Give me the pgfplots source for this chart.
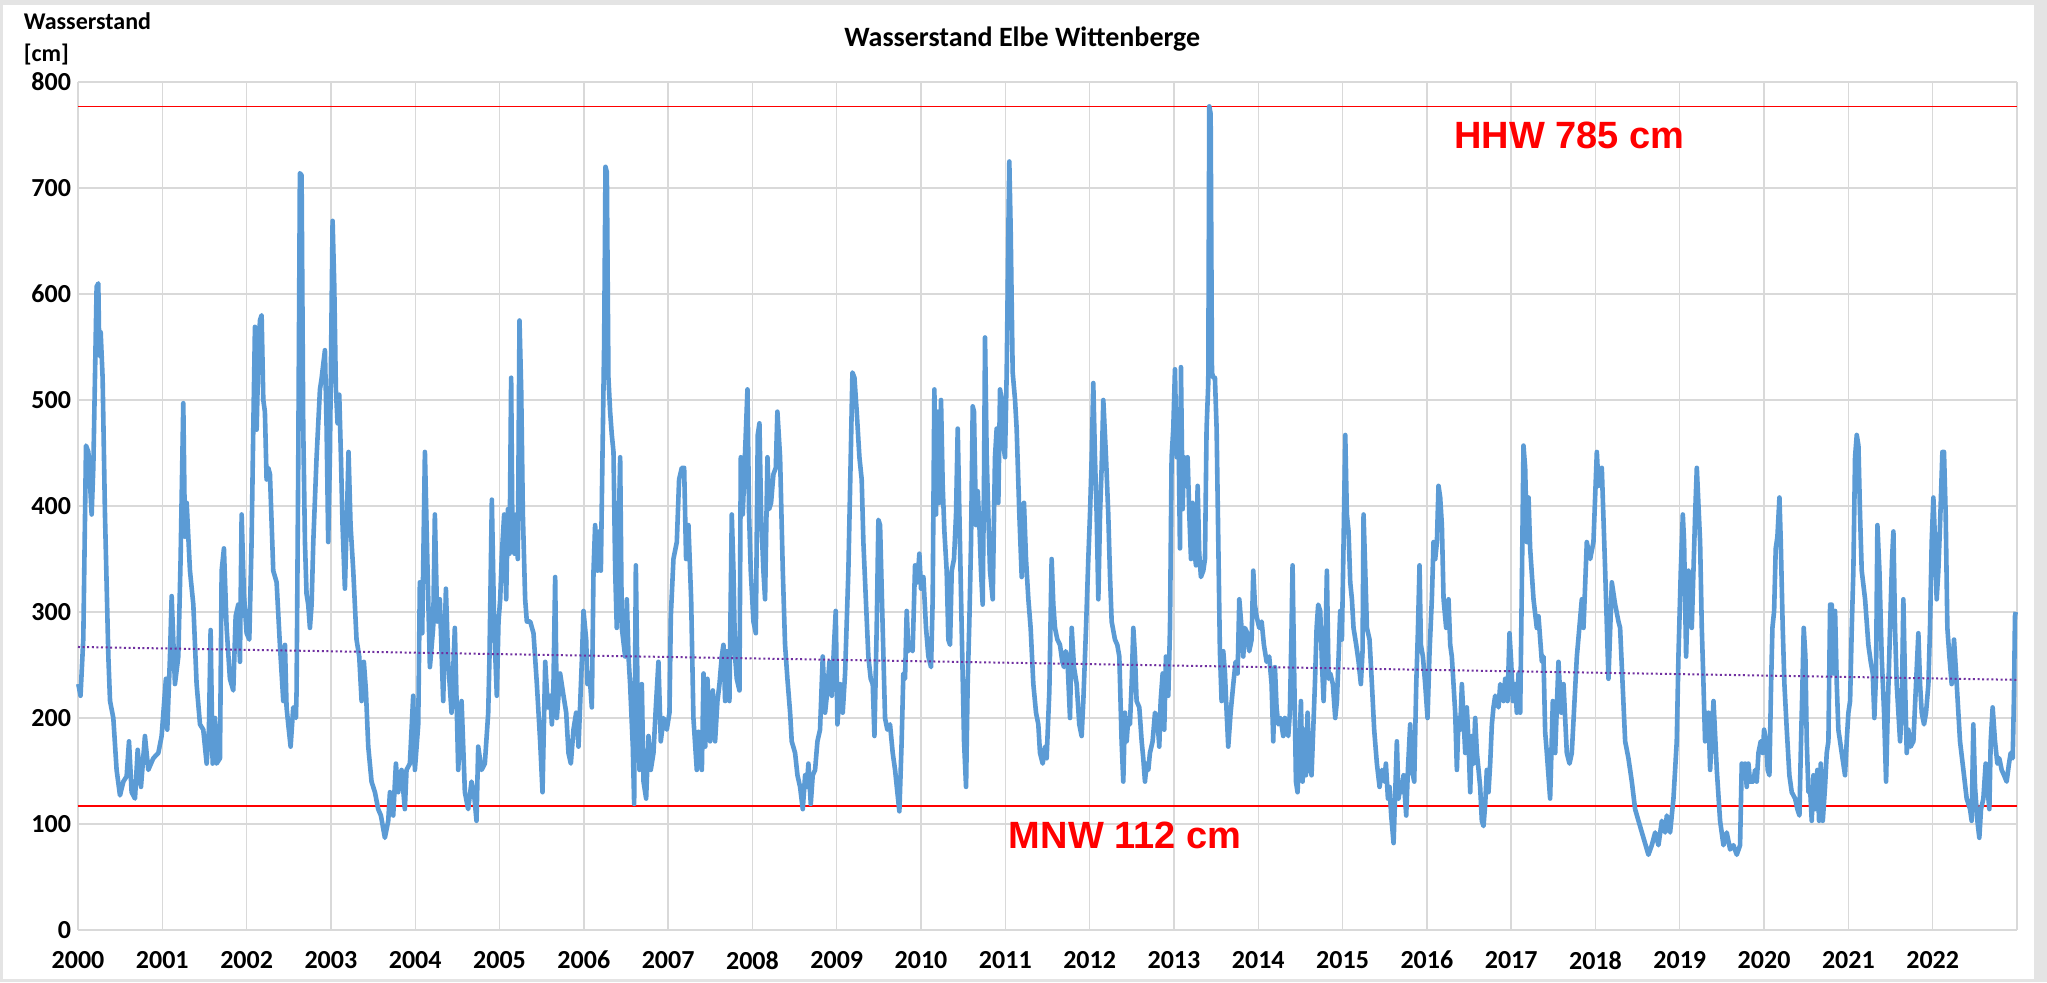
\documentclass[border=0pt]{standalone}
\usepackage{pgfplots}
\pgfplotsset{compat=1.18}
\usepackage{fontspec}
\setmainfont{Carlito}
\newfontfamily\arialfont{Liberation Sans}

\definecolor{pegel}{HTML}{5B9BD5}
\definecolor{trend}{HTML}{7030A0}
\definecolor{gitter}{HTML}{D9D9D9}
\definecolor{rand}{HTML}{E4E4E4}

\begin{document}
\begin{tikzpicture}
% chart area frame
\fill[rand] (-39pt,-26pt) rectangle (984.5pt,465pt);
\fill[white] (-37.5pt,-24.5pt) rectangle (978pt,462.5pt);

\begin{axis}[
    width=969.5pt, height=424pt, scale only axis,
    xmin=2000, xmax=2023, ymin=0, ymax=800,
    axis line style={draw=none},
    major tick length=0pt,
    grid=major,
    major grid style={draw=gitter, line width=0.7pt},
    xtick={2000,2001,...,2023},
    xticklabels={2000,2001,2002,2003,2004,2005,2006,2007,2008,2009,2010,2011,2012,2013,2014,2015,2016,2017,2018,2019,2020,2021,2022,},
    ytick={0,100,...,800},
    yticklabels={0,100,200,300,400,500,600,700,800},
    tick label style={font=\bfseries\fontsize{13}{15}\selectfont},
    xticklabel style={yshift=-7pt},
    clip=false,
]

% MNW / HHW
\addplot[red, line width=0.8pt] coordinates {(2000,777) (2023,777)};
\addplot[red, line width=0.8pt] coordinates {(2000,117) (2023,117)};

% Wasserstand
\addplot[pegel, line width=2.3pt, line join=round] coordinates {
(2000.004,232) (2000.03,221) (2000.063,275) (2000.095,457) (2000.123,451) (2000.162,392) (2000.182,437) (2000.221,607) (2000.241,610) (2000.253,542)
(2000.269,564) (2000.292,521) (2000.32,392) (2000.36,258) (2000.38,216) (2000.419,200) (2000.458,151) (2000.498,127) (2000.538,140) (2000.577,145)
(2000.605,178) (2000.636,130) (2000.676,124) (2000.708,170) (2000.747,135) (2000.794,183) (2000.834,151) (2000.893,162) (2000.953,167) (2000.992,183)
(2001.043,237) (2001.059,189) (2001.091,258) (2001.111,315) (2001.15,232) (2001.19,258) (2001.217,350) (2001.249,497) (2001.269,371) (2001.289,403)
(2001.328,339) (2001.368,307) (2001.407,232) (2001.447,194) (2001.486,189) (2001.526,157) (2001.553,189) (2001.573,283) (2001.597,157) (2001.625,200)
(2001.644,157) (2001.684,162) (2001.704,339) (2001.731,360) (2001.763,285) (2001.802,237) (2001.842,226) (2001.87,296) (2001.901,307) (2001.921,253)
(2001.941,392) (2001.968,317) (2002.0,280) (2002.032,274) (2002.059,366) (2002.079,472) (2002.099,569) (2002.119,472) (2002.138,537) (2002.158,575)
(2002.178,580) (2002.198,500) (2002.217,489) (2002.237,425) (2002.257,436)
(2002.277,430) (2002.316,339) (2002.356,328) (2002.395,269) (2002.435,216) (2002.455,269) (2002.474,210) (2002.494,194) (2002.522,173) (2002.553,210)
(2002.585,200) (2002.593,226) (2002.613,446) (2002.632,714) (2002.652,712) (2002.672,473) (2002.692,366) (2002.711,317) (2002.731,307) (2002.751,285)
(2002.771,307) (2002.791,366) (2002.83,446) (2002.87,510) (2002.889,520) (2002.929,547) (2002.949,473) (2002.968,366) (2002.988,446) (2003.02,669)
(2003.04,607) (2003.059,510) (2003.079,478) (2003.099,505) (2003.119,446) (2003.138,382) (2003.166,322) (2003.194,403) (2003.209,451) (2003.233,382)
(2003.265,339) (2003.304,274) (2003.336,258) (2003.364,216) (2003.391,253) (2003.415,226) (2003.443,173) (2003.482,140) (2003.522,130) (2003.561,114)
(2003.593,108) (2003.64,87) (2003.68,103) (2003.70,130) (2003.739,108) (2003.771,157) (2003.798,130) (2003.838,151) (2003.877,114) (2003.897,151)
(2003.937,157) (2003.976,221) (2003.996,151) (2004.036,194) (2004.055,328) (2004.083,280) (2004.115,451) (2004.142,355) (2004.174,248) (2004.213,285)
(2004.233,392) (2004.261,291) (2004.292,312) (2004.332,216) (2004.364,322) (2004.391,253) (2004.431,205) (2004.47,285) (2004.51,151) (2004.55,216)
(2004.589,130) (2004.628,114) (2004.668,140) (2004.696,130) (2004.727,103) (2004.747,173) (2004.787,151) (2004.826,157) (2004.866,205)
(2004.881,258) (2004.909,406) (2004.937,285) (2004.968,221) (2004.988,291) (2005.008,312) (2005.028,355) (2005.055,392) (2005.079,312) (2005.099,397)
(2005.119,355) (2005.138,521) (2005.154,366) (2005.178,355) (2005.198,392) (2005.217,350) (2005.237,575) (2005.257,510) (2005.277,392) (2005.304,312)
(2005.324,291) (2005.364,291) (2005.403,280) (2005.443,232) (2005.482,178) (2005.51,130) (2005.542,253) (2005.573,210) (2005.601,221) (2005.621,194)
(2005.64,232) (2005.66,333) (2005.68,200) (2005.719,242) (2005.759,221) (2005.791,205) (2005.818,167) (2005.846,157) (2005.877,189) (2005.909,205)
(2005.937,173) (2005.976,253) (2005.996,301) (2006.028,274) (2006.043,232) (2006.067,242) (2006.095,210) (2006.115,339) (2006.134,382) (2006.162,339)
(2006.182,376) (2006.202,339) (2006.221,446) (2006.241,553) (2006.257,720) (2006.273,715) (2006.292,521) (2006.312,489) (2006.332,467) (2006.352,451)
(2006.372,339) (2006.391,285) (2006.431,446) (2006.451,285) (2006.49,258) (2006.51,312) (2006.53,258) (2006.549,232) (2006.581,173) (2006.597,119)
(2006.617,344) (2006.636,232) (2006.66,151) (2006.688,232) (2006.708,140) (2006.739,124) (2006.767,183) (2006.794,151) (2006.826,167) (2006.854,210)
(2006.885,253) (2006.913,178) (2006.945,200) (2006.984,189) (2007.016,205) (2007.032,296) (2007.063,350) (2007.103,366) (2007.13,425) (2007.162,436)
(2007.19,436) (2007.213,350) (2007.241,382) (2007.273,312)
(2007.30,200) (2007.34,151) (2007.36,187) (2007.40,151) (2007.42,242) (2007.44,173) (2007.466,237) (2007.498,178) (2007.53,226) (2007.557,178)
(2007.585,216) (2007.609,232) (2007.636,258) (2007.656,269) (2007.676,216) (2007.696,263) (2007.727,216) (2007.755,392) (2007.775,339) (2007.794,258)
(2007.814,237) (2007.846,226) (2007.862,446) (2007.885,392) (2007.913,451) (2007.941,510) (2007.96,392) (2007.98,339) (2008.012,291) (2008.04,280)
(2008.063,467) (2008.083,478) (2008.103,392) (2008.13,339) (2008.15,312) (2008.178,446) (2008.198,397) (2008.221,403) (2008.249,430) (2008.277,436)
(2008.296,489) (2008.328,446) (2008.36,339) (2008.387,269) (2008.415,237) (2008.447,205) (2008.466,178) (2008.506,167) (2008.534,146) (2008.565,135)
(2008.597,114) (2008.625,146) (2008.644,135) (2008.664,157) (2008.692,119) (2008.715,146) (2008.743,151) (2008.771,178) (2008.802,189) (2008.834,258)
(2008.862,205) (2008.889,226) (2008.913,253) (2008.941,221) (2008.968,269) (2008.988,301) (2009.008,194) (2009.04,232) (2009.071,205) (2009.099,242)
(2009.138,339) (2009.166,446) (2009.186,526) (2009.21,521) (2009.237,489) (2009.269,446) (2009.296,425) (2009.316,366) (2009.348,307) (2009.375,258)
(2009.403,237) (2009.427,232) (2009.447,183) (2009.474,285) (2009.494,387) (2009.514,382) (2009.545,285) (2009.573,200) (2009.6,189) (2009.632,194)
(2009.664,167) (2009.692,151) (2009.719,130) (2009.743,112)
(2009.77,178) (2009.79,242) (2009.81,237) (2009.83,301) (2009.85,263) (2009.87,269) (2009.90,263) (2009.929,344) (2009.957,328) (2009.98,355)
(2010.0,322) (2010.028,333) (2010.059,285) (2010.087,258) (2010.119,248) (2010.138,312) (2010.158,510) (2010.178,392) (2010.198,489) (2010.217,403)
(2010.237,500) (2010.257,419) (2010.277,376) (2010.304,339) (2010.324,274) (2010.344,269) (2010.364,339) (2010.391,350) (2010.415,392) (2010.435,473)
(2010.455,392) (2010.482,285) (2010.51,178) (2010.534,135) (2010.553,232) (2010.573,291) (2010.593,366) (2010.613,494) (2010.628,489) (2010.652,382)
(2010.672,414) (2010.692,382) (2010.711,339) (2010.731,307) (2010.747,425) (2010.759,559) (2010.779,446) (2010.798,392) (2010.818,339) (2010.85,312)
(2010.877,446) (2010.897,473) (2010.917,403) (2010.937,510) (2010.957,500) (2010.976,457) (2010.996,446) (2011.016,526) (2011.036,661) (2011.047,725)
(2011.063,661) (2011.087,526) (2011.115,500) (2011.134,473) (2011.166,392) (2011.194,333) (2011.221,403) (2011.245,350) (2011.273,312) (2011.3,285)
(2011.332,232) (2011.364,205) (2011.391,194) (2011.411,167) (2011.443,157) (2011.47,173) (2011.49,162) (2011.522,226) (2011.549,350) (2011.569,307)
(2011.589,285) (2011.617,274) (2011.648,269) (2011.676,253) (2011.696,248) (2011.715,263) (2011.735,258) (2011.767,200) (2011.787,285) (2011.814,248)
(2011.846,232) (2011.877,194) (2011.905,183) (2011.925,216) (2011.957,285) (2011.984,350) (2012.004,392) (2012.024,446) (2012.043,516) (2012.063,446)
(2012.083,392) (2012.103,312) (2012.123,392) (2012.142,436) (2012.162,500) (2012.194,446) (2012.221,392)
(2012.241,335) (2012.261,291) (2012.3,274) (2012.328,269) (2012.352,258) (2012.379,178) (2012.399,140) (2012.419,205) (2012.439,178) (2012.458,200)
(2012.478,194) (2012.498,232) (2012.518,285) (2012.538,258) (2012.557,216) (2012.589,210) (2012.617,178) (2012.636,162) (2012.656,140) (2012.676,157)
(2012.696,151) (2012.715,167) (2012.747,178) (2012.775,205) (2012.802,200) (2012.826,173) (2012.842,216) (2012.866,242) (2012.885,189) (2012.905,258)
(2012.933,221) (2012.953,285) (2012.972,446) (2012.992,473) (2013.012,529) (2013.032,446) (2013.051,489) (2013.071,360) (2013.083,531) (2013.103,397)
(2013.119,446) (2013.142,419) (2013.162,446) (2013.182,392) (2013.202,350) (2013.221,403) (2013.241,360) (2013.261,344) (2013.281,419) (2013.3,355)
(2013.32,333) (2013.348,339) (2013.368,350) (2013.387,473) (2013.407,516) (2013.419,777) (2013.435,770) (2013.451,526) (2013.466,521) (2013.486,521)
(2013.506,473) (2013.526,366) (2013.545,263) (2013.565,216) (2013.585,263) (2013.605,242) (2013.625,205) (2013.644,173) (2013.672,205) (2013.704,232)
(2013.731,253) (2013.755,242) (2013.775,312) (2013.802,285) (2013.822,258) (2013.842,285) (2013.87,280) (2013.893,263) (2013.921,274) (2013.941,339)
(2013.96,307) (2013.98,296) (2014.012,285) (2014.04,291) (2014.067,269) (2014.099,253) (2014.13,258) (2014.158,232) (2014.178,178) (2014.198,248)
(2014.217,210) (2014.237,194) (2014.265,200) (2014.296,183) (2014.316,200) (2014.336,189) (2014.356,183) (2014.375,205) (2014.395,285) (2014.407,344)
(2014.423,258) (2014.447,140) (2014.466,130) (2014.486,167) (2014.506,216) (2014.526,140) (2014.545,189) (2014.565,146) (2014.585,205) (2014.605,157)
(2014.632,146) (2014.652,189) (2014.672,232) (2014.692,285) (2014.711,307)
(2014.735,301) (2014.755,253) (2014.775,216) (2014.794,258) (2014.814,339) (2014.834,237) (2014.854,242) (2014.885,232) (2014.913,200) (2014.933,216)
(2014.953,258) (2014.972,301) (2014.992,274) (2015.012,366) (2015.032,467) (2015.051,392) (2015.071,376) (2015.091,328) (2015.111,312) (2015.13,285)
(2015.162,269) (2015.19,253) (2015.217,232) (2015.237,263) (2015.249,392) (2015.269,339) (2015.289,285) (2015.32,274) (2015.348,232) (2015.375,189)
(2015.407,157) (2015.439,135) (2015.466,151) (2015.494,140) (2015.514,157) (2015.538,124) (2015.557,135) (2015.577,108) (2015.605,82) (2015.625,130)
(2015.644,178) (2015.664,124) (2015.684,135) (2015.704,130) (2015.723,146) (2015.755,108) (2015.775,151) (2015.802,194) (2015.822,151) (2015.85,140)
(2015.874,232) (2015.893,280) (2015.913,344) (2015.929,269) (2015.953,258) (2015.98,232) (2016.008,200) (2016.032,263) (2016.059,312) (2016.079,366)
(2016.099,350) (2016.119,366) (2016.138,419) (2016.158,408) (2016.178,382) (2016.198,312) (2016.229,285) (2016.257,312) (2016.277,269) (2016.296,258)
(2016.316,232) (2016.336,205) (2016.356,151) (2016.375,200) (2016.395,189) (2016.415,232) (2016.435,200) (2016.455,167) (2016.474,210) (2016.494,178)
(2016.514,130) (2016.534,183) (2016.553,157) (2016.573,200) (2016.593,167) (2016.613,151) (2016.632,135) (2016.652,103) (2016.672,98) (2016.692,119)
(2016.711,151) (2016.731,130) (2016.751,157) (2016.771,194) (2016.79,210) (2016.81,221) (2016.83,216) (2016.85,210) (2016.87,232) (2016.889,226)
(2016.909,216) (2016.929,237) (2016.957,216) (2016.98,280) (2017.0,253) (2017.02,216) (2017.047,232) (2017.067,205) (2017.087,242) (2017.107,205)
(2017.126,322) (2017.146,457) (2017.166,436) (2017.186,366) (2017.206,408)
(2017.225,360) (2017.265,312) (2017.304,285) (2017.324,296) (2017.364,253) (2017.383,258) (2017.403,187) (2017.423,167) (2017.462,124) (2017.494,216)
(2017.522,167) (2017.561,253) (2017.593,205) (2017.621,232) (2017.66,167) (2017.692,157) (2017.719,167) (2017.779,258) (2017.838,312) (2017.858,285)
(2017.897,366) (2017.937,350) (2017.976,366) (2018.016,451) (2018.036,419) (2018.075,436) (2018.115,339) (2018.154,237) (2018.194,328) (2018.233,307)
(2018.273,291) (2018.292,285) (2018.352,178) (2018.391,162) (2018.431,140) (2018.47,114) (2018.51,103) (2018.569,87) (2018.628,71) (2018.668,80)
(2018.708,92) (2018.747,80) (2018.787,103) (2018.826,92) (2018.846,108) (2018.885,92) (2018.925,124) (2018.964,178) (2018.984,258) (2019.012,339)
(2019.036,392) (2019.051,366) (2019.075,258) (2019.103,339) (2019.142,285) (2019.182,392) (2019.202,436) (2019.241,366) (2019.261,285) (2019.281,232)
(2019.3,178) (2019.34,205) (2019.36,151) (2019.4,216) (2019.439,151) (2019.478,103) (2019.518,80) (2019.557,92) (2019.597,76) (2019.636,80)
(2019.676,71) (2019.715,80)
(2019.735,157) (2019.755,146) (2019.775,157) (2019.794,135) (2019.814,157) (2019.834,140) (2019.874,140) (2019.893,151) (2019.913,140) (2019.933,167)
(2019.96,178) (2019.984,167) (2020.0,189) (2020.024,178) (2020.043,151) (2020.063,146) (2020.083,232) (2020.099,285) (2020.119,301) (2020.138,360)
(2020.158,371) (2020.182,408) (2020.198,366) (2020.221,285) (2020.241,232) (2020.269,189) (2020.3,146) (2020.328,130) (2020.368,124) (2020.395,114)
(2020.419,108) (2020.435,167) (2020.455,232) (2020.47,285) (2020.49,258) (2020.506,178) (2020.526,130) (2020.545,135) (2020.565,103) (2020.585,146)
(2020.605,114) (2020.632,151) (2020.652,103) (2020.672,157) (2020.696,103) (2020.723,135) (2020.743,167) (2020.763,178) (2020.783,307) (2020.802,307)
(2020.822,242) (2020.842,301) (2020.862,232) (2020.881,189) (2020.921,167) (2020.96,146) (2020.98,178) (2021.0,205) (2021.02,216) (2021.04,285)
(2021.059,339) (2021.079,446) (2021.099,467) (2021.119,457) (2021.138,392) (2021.158,339) (2021.198,312) (2021.237,269) (2021.265,253) (2021.289,242)
(2021.308,200) (2021.328,242) (2021.344,382) (2021.368,339) (2021.395,258) (2021.423,205) (2021.447,140) (2021.466,205) (2021.494,285) (2021.518,350)
(2021.534,376) (2021.553,285) (2021.573,232) (2021.593,205) (2021.613,178) (2021.632,205) (2021.652,312) (2021.672,232) (2021.692,167) (2021.711,189)
(2021.739,173) (2021.771,178) (2021.802,232) (2021.83,280) (2021.85,232) (2021.87,205) (2021.897,194) (2021.921,205) (2021.949,232) (2021.968,285)
(2021.988,366) (2022.008,408) (2022.028,366) (2022.047,312) (2022.067,339) (2022.087,382) (2022.115,451) (2022.134,451) (2022.154,392) (2022.174,285)
(2022.198,258) (2022.225,232) (2022.253,274) (2022.285,232) (2022.324,178) (2022.364,151) (2022.403,124) (2022.443,114) (2022.462,103) (2022.482,194)
(2022.502,135) (2022.53,103) (2022.553,87) (2022.573,114) (2022.601,124) (2022.628,157) (2022.648,135) (2022.672,114) (2022.688,178) (2022.711,210)
(2022.739,178) (2022.767,157) (2022.79,162) (2022.818,151) (2022.846,146) (2022.877,140) (2022.905,157) (2022.925,167) (2022.949,162) (2022.964,221)
(2022.976,296) (2022.985,300)
};

% linearer Trend
\addplot[trend, line width=1pt, dash pattern=on 1pt off 1.3pt] coordinates {(2000,267) (2023,236)};

% Beschriftungen
\node[font=\bfseries\fontsize{14}{16}\selectfont] at (axis description cs:0.487,1.0507) {Wasserstand Elbe Wittenberge};
\node[anchor=north west, align=left, inner sep=0pt, font=\bfseries\fontsize{12}{16.3}\selectfont]
    at (axis description cs:-0.0281,1.0825) {Wasserstand\\{}[cm]};
\node[red, font=\arialfont\bfseries\fontsize{19}{21}\selectfont] at (axis cs:2017.69,750) {HHW 785 cm};
\node[red, font=\arialfont\bfseries\fontsize{19}{21}\selectfont] at (axis cs:2012.42,89) {MNW 112 cm};
\end{axis}
\end{tikzpicture}
\end{document}
